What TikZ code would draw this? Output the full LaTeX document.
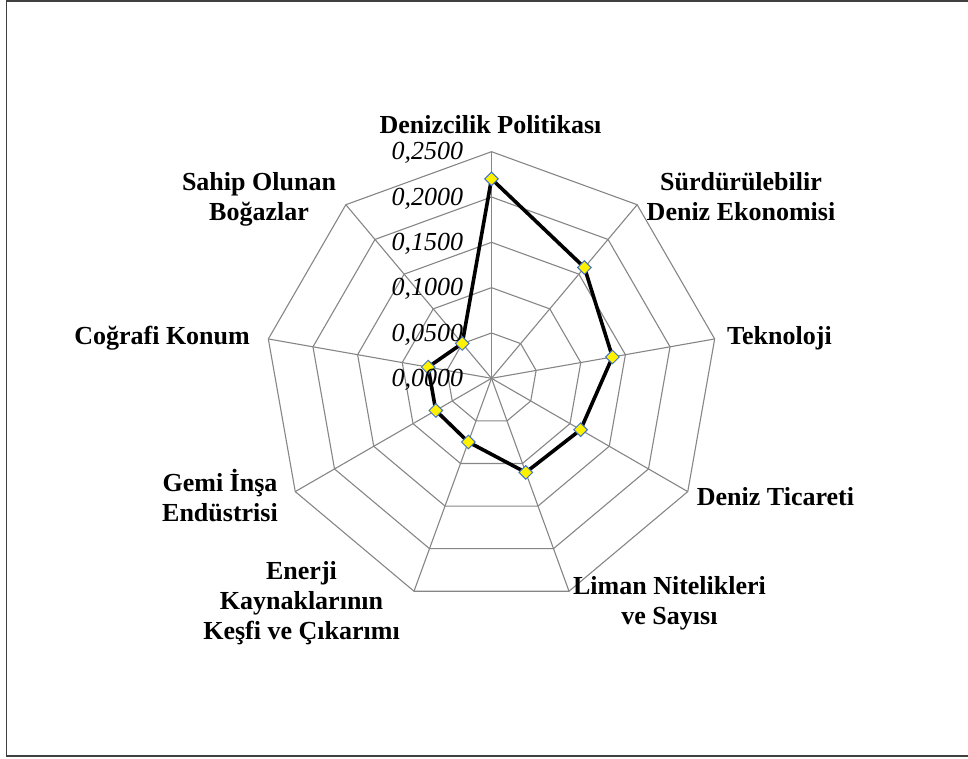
\documentclass[tikz,border=0pt]{standalone}
\usepackage{fontspec}
\setmainfont{Liberation Serif}
\usetikzlibrary{shapes.geometric}
\definecolor{gridgray}{HTML}{868686}
\definecolor{markblue}{HTML}{4472C4}
\definecolor{framegray}{HTML}{404040}
\begin{document}
\begin{tikzpicture}[x=1pt,y=1pt,
  grid/.style={draw=gridgray, line width=1.1pt, line join=miter},
  series/.style={draw=black, line width=3.6pt, line join=miter},
  marker/.style={diamond, fill=yellow, draw=markblue, line width=1pt, inner sep=0pt, minimum size=14pt},
  cat/.style={font=\fontsize{26}{30}\selectfont\bfseries, align=center, inner sep=0pt},
  val/.style={font=\fontsize{26}{30}\selectfont\itshape, inner sep=0pt, anchor=base east}]
\useasboundingbox (0,0) rectangle (968,758);
% chart frame (open on the right)
\draw[framegray, line width=1.5pt] (980,757) -- (6.5,757) -- (6.5,2) -- (980,2);
\coordinate (c) at (491.5,379.7);
\begin{scope}[shift={(c)}]
  % rings every 0.05
  \foreach \r in {1,...,5}
    \draw[grid] (90:\r*45.32) \foreach \k in {1,...,8} { -- (90-40*\k:\r*45.32) } -- cycle;
  % spokes
  \foreach \k in {0,...,8}
    \draw[grid] (0,0) -- (90-40*\k:226.6);
  % data points
  \foreach \v [count=\i from 0] in {0.220,0.1595,0.1355,0.1135,0.1105,0.0748,0.0710,0.0710,0.0502}
    \coordinate (d\i) at (90-40*\i:\v*906.4);
\end{scope}
\draw[series] (d0) -- (d1) -- (d2) -- (d3) -- (d4) -- (d5) -- (d6) -- (d7) -- (d8) -- cycle;
\foreach \i in {0,...,8}
  \node[marker] (m\i) at (d\i) {};
% axis values
\node[val] (v0) at (463.3,371.5) {0,0000};
\node[val] (v1) at (463.3,416.8) {0,0500};
\node[val] (v2) at (463.3,462.1) {0,1000};
\node[val] (v3) at (463.3,507.4) {0,1500};
\node[val] (v4) at (463.3,552.7) {0,2000};
\node[val] (v5) at (463.3,598.0) {0,2500};
% category labels (multi-line labels are anchored on their last line)
\node[cat, anchor=base] (l0) at (490.5,624.7) {Denizcilik Politikası};
\node[cat, anchor=base] (l1) at (741,537.3) {Sürdürülebilir\\Deniz Ekonomisi};
\node[cat, anchor=base west] (l2) at (727,413) {Teknoloji};
\node[cat, anchor=base west] (l3) at (696.7,253) {Deniz Ticareti};
\node[cat, anchor=base] (l4) at (669.5,134) {Liman Nitelikleri\\ve Sayısı};
\node[cat, anchor=base] (l5) at (301.5,118.7) {Enerji\\Kaynaklarının\\Keşfi ve Çıkarımı};
\node[cat, anchor=base] (l6) at (220,237) {Gemi İnşa\\Endüstrisi};
\node[cat, anchor=base east] (l7) at (250,413) {Coğrafi Konum};
\node[cat, anchor=base] (l8) at (259,537) {Sahip Olunan\\Boğazlar};
\end{tikzpicture}
\end{document}
